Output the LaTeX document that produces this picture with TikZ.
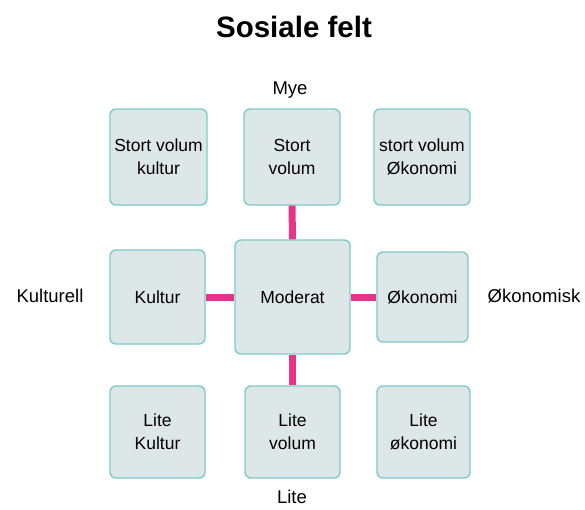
\documentclass[tikz,border=0pt]{standalone}
\usepackage{fontspec}
\setmainfont{Liberation Sans}
\definecolor{boxfill}{HTML}{DDE7E7}
\definecolor{boxline}{HTML}{7FCACA}
\definecolor{link}{HTML}{E6348B}
\begin{document}
\begin{tikzpicture}[x=1pt,y=-1pt,
  cell/.style={draw=boxline, fill=boxfill, line width=1.4pt, rounded corners=6pt,
    align=center, inner sep=0pt, font=\fontsize{17.5}{23}\selectfont},
  axislabel/.style={font=\fontsize{18.5}{20}\selectfont, inner sep=0pt},
  bar/.style={draw=link, line width=7pt}]
\useasboundingbox (0,0) rectangle (585,509);
% title
\node[font=\bfseries\fontsize{29.5}{32}\selectfont] (title) at (294,27) {Sosiale felt};
% axis labels
\node[axislabel] (mye) at (290,90) {Mye};
\node[axislabel] (lite) at (292,497) {Lite};
\node[axislabel] (kult) at (50,296) {Kulturell};
\node[axislabel] (okon) at (534,296) {Økonomisk};
% grid of fields
\node[cell, minimum width=97pt, minimum height=96pt] (tl) at (158.5,157) {Stort volum\\kultur};
\node[cell, minimum width=96pt, minimum height=96pt] (tm) at (292,157) {Stort\\volum};
\node[cell, minimum width=96pt, minimum height=96pt] (tr) at (422,157) {stort volum\\Økonomi};
\node[cell, minimum width=95pt, minimum height=94pt] (ml) at (157.5,297) {Kultur};
\node[cell, minimum width=115pt, minimum height=114pt] (c) at (292.5,297) {Moderat};
\node[cell, minimum width=91pt, minimum height=90pt] (mr) at (422.5,297) {Økonomi};
\node[cell, minimum width=95pt, minimum height=92pt] (bl) at (157.5,432) {Lite\\Kultur};
\node[cell, minimum width=95pt, minimum height=92pt] (bm) at (292.5,432) {Lite\\volum};
\node[cell, minimum width=93pt, minimum height=92pt] (br) at (423.5,432) {Lite\\økonomi};
% links to the centre
\draw[bar] (tm.south) -- (c.north);
\draw[bar] (c.south) -- (bm.north);
\draw[bar] (ml.east) -- (c.west);
\draw[bar] (c.east) -- (mr.west);
\end{tikzpicture}
\end{document}
